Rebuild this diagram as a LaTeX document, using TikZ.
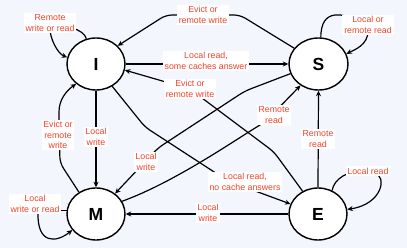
\documentclass[tikz,border=0pt]{standalone}
\usepackage{fontspec}
\setmainfont{Liberation Sans}
\usetikzlibrary{arrows.meta,shapes.geometric}
\definecolor{bgc}{RGB}{243,246,253}
\definecolor{labred}{RGB}{240,68,42}
\pgfdeclarelayer{canvas}
\pgfdeclarelayer{edges}
\pgfsetlayers{canvas,edges,main}

\begin{document}
\begin{tikzpicture}[x=1pt,y=-1pt,
  state/.style={ellipse, draw, line width=1.4pt, fill=white,
    minimum width=58pt, minimum height=52pt, inner sep=0pt,
    font=\bfseries\fontsize{17.5}{20}\selectfont},
  lab/.style={fill=white, text=labred, align=center, inner sep=1.8pt,
    font=\fontsize{8.8}{10.4}\selectfont},
  wire/.style={line width=1.2pt, rounded corners=6pt},
  arr/.style={wire, -{Stealth[length=5.5pt,width=5pt]}}
]
\begin{pgfonlayer}{canvas}
  \fill[bgc] (0,0) rectangle (407,248);
\end{pgfonlayer}
\useasboundingbox (0,0) rectangle (407,248);

% MESI states
\node[state] (I) at (96,64) {I};
\node[state, minimum width=59pt] (S) at (318.5,64) {S};
\node[state] (M) at (96,214) {M};
\node[state] (E) at (318,214) {E};

% transition labels
\node[lab] (lIS) at (206,61) {Local read,\\some caches answer};
\node[lab] (lSI) at (203,15) {Evict or\\remote write};
\node[lab] (lEI) at (190,89) {Evict or\\remote write};
\node[lab] (lIM) at (96,137) {Local\\write};
\node[lab] (lMI) at (58,135) {Evict or\\remote\\write};
\node[lab] (lIE) at (245,182) {Local read,\\no cache answers};
\node[lab] (lSM) at (146,162) {Local\\write};
\node[lab] (lMS) at (274,115) {Remote\\read};
\node[lab] (lES) at (318,139) {Remote\\read};
\node[lab] (lEM) at (208,213) {Local\\write};
\node[lab] (lII) at (50,23) {Remote\\write or read};
\node[lab] (lSS) at (368,25) {Local or\\remote read};
\node[lab] (lEE) at (368,171) {Local read};
\node[lab] (lMM) at (35,204) {Local\\write or read};

\begin{pgfonlayer}{edges}
  % between states
  \draw[arr] (I.east) -- (S.west);
  \draw[arr] (S.147) -- (240,15) -- (166,15) -- (I.40);
  \draw[arr] (E.124) -- (274,152) -- (lEI.center) -- (I.-12);
  \draw[arr] (I.south) -- (M.north);
  \draw[arr] (M.128) -- (60,163) -- (59,118) .. controls (59,100) and (66,91) .. (I.225);
  \draw[arr] (I.306) -- (145,127) -- (228,181) -- (E.160);
  \draw[arr] (S.199) -- (245,91) -- (158,148) -- (M.47);
  \draw[arr] (M.26) .. controls (175,182) and (235,140) .. (265,122) -- (S.230);
  \draw[arr] (E.north) -- (S.south);
  \draw[arr] (E.west) -- (M.east);
  % self loops
  \draw[arr] (I.111) .. controls +(-2,-10) and +(12,2) .. (lII.center)
             .. controls +(0,15) and +(-10,-4) .. (I.167);
  \draw[arr] (S.85) .. controls +(0,-30) and +(-25,-12) .. (lSS.center)
             .. controls +(0,20) and +(8,-4) .. (S.20);
  \draw[arr] (E.59) .. controls +(2,-12) and +(-20,0) .. (lEE.center)
             .. controls +(20,5) and +(35,-5) .. (E.9);
  \draw[wire] (M.174) -- (M.174 -| lMM.east);
  \draw[arr] (lMM.south) ++(3,-2) .. controls +(-1,32) and +(-16,13) .. (M.214);
\end{pgfonlayer}
\end{tikzpicture}
\end{document}
